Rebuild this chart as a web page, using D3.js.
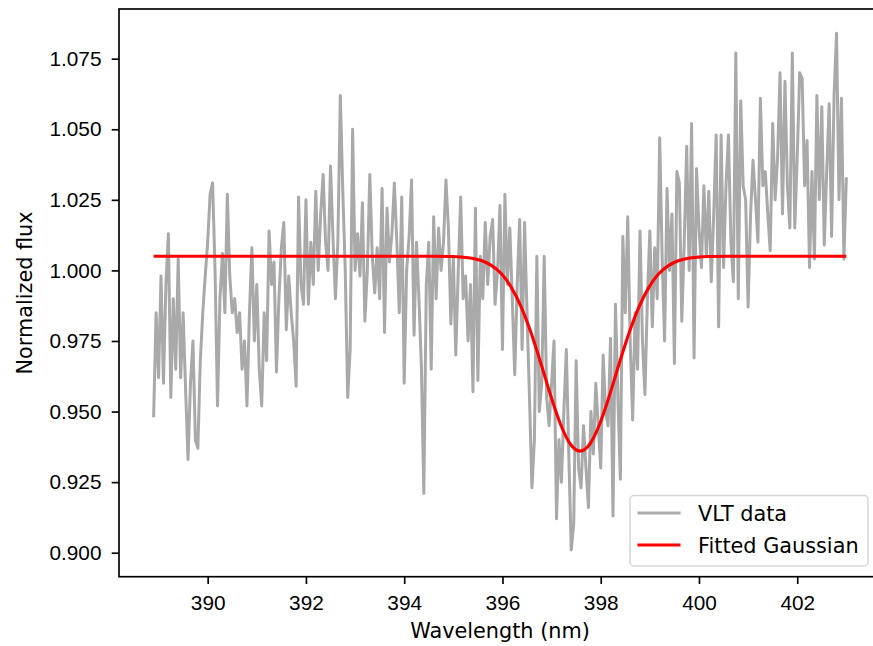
<!DOCTYPE html>
<html>
<head>
<meta charset="utf-8">
<script src="https://cdn.jsdelivr.net/npm/d3@7"></script>
<style>
  body { margin: 0; background: #fff; }
  svg { display: block; font-family: "DejaVu Sans", sans-serif; }
  .axis text { font-size: 20.8px; fill: #000; }
  .axis line { stroke: #000; stroke-width: 1.67; }
  .axis-title { font-size: 20.8px; fill: #000; }
  .legend-text { font-size: 20.8px; fill: #000; }
</style>
</head>
<body>
<svg id="chart"></svg>
<script>
// VLT spectrum; one value every 0.05 nm from 388.90 nm
const wavelengthStart = 388.9;
const wavelengthStep = 0.05;
const vltFlux = [
  // 388.90 - 391.10
  0.948, 0.985, 0.962, 0.998, 0.960, 0.995, 1.013, 0.955, 0.990, 0.965,
  1.004, 0.962, 0.985, 0.958, 0.933, 0.960, 0.975, 0.940, 0.937, 0.968,
  0.985, 0.998, 1.010, 1.027, 1.031, 1.000, 0.952, 0.990, 1.006, 0.985,
  1.027, 0.998, 0.985, 0.990, 0.978, 0.985, 0.965, 0.975, 0.952, 0.985,
  1.008, 0.975, 0.995, 0.965, 0.952,
  // 391.15 - 393.55
  0.985, 0.968, 1.014, 0.995, 1.003, 0.964, 0.990, 1.008, 1.017, 0.979,
  0.998, 0.985, 0.975, 0.959, 1.026, 0.995, 0.988, 1.025, 0.988, 1.010,
  0.995, 1.028, 1.000, 1.020, 1.034, 1.010, 1.000, 1.037, 1.012, 0.990,
  1.010, 1.062, 1.028, 1.000, 0.955, 0.972, 1.050, 1.000, 1.013, 0.998,
  1.024, 0.982, 1.000, 1.034, 1.005, 0.992, 1.008, 0.990, 1.029,
  // 393.60 - 396.00
  0.978, 1.022, 1.003, 1.013, 1.031, 1.010, 0.985, 1.026, 0.960, 1.000,
  1.012, 1.032, 0.977, 1.010, 0.990, 0.966, 0.921, 0.995, 1.010, 0.965,
  1.019, 0.990, 1.015, 1.000, 1.010, 1.032, 1.015, 0.981, 1.005, 0.970,
  1.000, 1.026, 0.990, 0.998, 0.975, 0.995, 0.957, 1.022, 0.961, 1.005,
  0.990, 1.017, 0.995, 1.012, 1.018, 0.988, 1.000, 1.023, 0.972,
  // 396.05 - 398.45
  1.027, 0.995, 1.015, 0.990, 0.963, 0.995, 1.018, 0.972, 1.017, 0.985,
  0.955, 0.923, 0.940, 1.005, 0.950, 0.960, 1.005, 0.955, 0.945, 0.960,
  0.975, 0.912, 0.940, 0.925, 0.950, 0.972, 0.935, 0.901, 0.910, 0.968,
  0.930, 0.923, 0.945, 0.930, 0.916, 0.950, 0.935, 0.960, 0.945, 0.930,
  0.970, 0.950, 0.945, 0.976, 0.913, 0.988, 0.955, 0.926, 1.012,
  // 398.50 - 400.90
  0.985, 1.019, 0.975, 0.947, 0.985, 0.965, 1.014, 0.975, 0.956, 0.990,
  1.014, 0.980, 1.008, 0.990, 1.047, 1.005, 0.975, 1.029, 1.000, 1.020,
  0.967, 1.035, 1.031, 0.982, 1.010, 1.044, 1.000, 1.052, 0.969, 1.036,
  1.015, 1.001, 1.030, 1.005, 1.028, 0.996, 1.020, 1.048, 0.980, 1.048,
  1.001, 1.030, 1.048, 1.010, 0.996, 1.077, 0.990, 1.060, 1.030,
  // 400.95 - 403.00
  1.025, 0.987, 1.020, 1.039, 1.025, 1.010, 1.061, 1.030, 1.035, 1.020,
  1.007, 1.052, 1.025, 1.040, 1.070, 1.020, 1.067, 1.030, 1.015, 1.077,
  1.015, 1.040, 1.070, 1.068, 1.030, 1.046, 1.001, 1.035, 1.004, 1.062,
  1.025, 1.058, 1.009, 1.035, 1.059, 1.012, 1.062, 1.084, 1.025, 1.061,
  1.004, 1.033,
];

// fitted Gaussian, sampled from the red curve
const fitWavelength = [388.9, 394.58, 394.98, 395.18, 395.38, 395.58, 395.78, 395.98, 396.18, 396.38,
  396.58, 396.78, 396.98, 397.18, 397.38, 397.58, 397.78, 397.98, 398.18, 398.38,
  398.58, 398.78, 398.98, 399.18, 399.38, 399.58, 399.78, 399.98, 400.18, 400.58, 403.0];
const fitFlux = [1.005, 1.005, 1.0049, 1.0047, 1.0043, 1.0034, 1.0017, 0.9988, 0.9940, 0.9871,
  0.9780, 0.9672, 0.9558, 0.9456, 0.9385, 0.936, 0.9385, 0.9456, 0.9558, 0.9672,
  0.9780, 0.9871, 0.9940, 0.9988, 1.0017, 1.0034, 1.0043, 1.0047, 1.0049, 1.005, 1.005];

const xTicks = [390, 392, 394, 396, 398, 400, 402];
const yTicks = [0.900, 0.925, 0.950, 0.975, 1.000, 1.025, 1.050, 1.075];
const legendLabels = ['VLT data', 'Fitted Gaussian'];

class SpectrumChart {
  constructor(_config) {
    this.config = {
      parentElement: _config.parentElement,
      containerWidth: 873,
      containerHeight: 646,
      // right edge of the axes lies past the picture edge
      margin: { top: 9, left: 119 },
      plotWidth: 762,
      plotHeight: 567.7,
      xDomain: [388.195, 403.705],
      yDomain: [0.8915, 1.0926],
    };
    this.initVis();
  }

  initVis() {
    const vis = this;
    const cfg = vis.config;

    vis.xScale = d3.scaleLinear().domain(cfg.xDomain).range([0, cfg.plotWidth]);
    vis.yScale = d3.scaleLinear().domain(cfg.yDomain).range([cfg.plotHeight, 0]);

    vis.svg = d3.select(cfg.parentElement)
      .attr('width', cfg.containerWidth)
      .attr('height', cfg.containerHeight);

    vis.chart = vis.svg.append('g')
      .attr('transform', `translate(${cfg.margin.left},${cfg.margin.top})`);

    vis.xAxis = d3.axisBottom(vis.xScale)
      .tickValues(xTicks)
      .tickSize(7.3)
      .tickSizeOuter(0)
      .tickPadding(11)
      .tickFormat(d3.format('d'));

    vis.yAxis = d3.axisLeft(vis.yScale)
      .tickValues(yTicks)
      .tickSize(7.3)
      .tickSizeOuter(0)
      .tickPadding(10.2)
      .tickFormat(d3.format('.3f'));

    vis.renderVis();
  }

  renderVis() {
    const vis = this;
    const cfg = vis.config;

    const spectrum = vltFlux.map((f, i) => ({ wl: wavelengthStart + i * wavelengthStep, flux: f }));
    const fit = fitWavelength.map((w, i) => ({ wl: w, flux: fitFlux[i] }));

    const line = d3.line()
      .x((d) => vis.xScale(d.wl))
      .y((d) => vis.yScale(d.flux));

    vis.chart.append('path')
      .datum(spectrum)
      .attr('fill', 'none')
      .attr('stroke', '#a9a9a9')
      .attr('stroke-width', 3)
      .attr('stroke-linejoin', 'round')
      .attr('d', line);

    vis.chart.append('path')
      .datum(fit)
      .attr('fill', 'none')
      .attr('stroke', '#ff0000')
      .attr('stroke-width', 3.1)
      .attr('stroke-linejoin', 'round')
      .attr('d', line.curve(d3.curveMonotoneX));

    // axes, domain removed and replaced by the frame
    vis.chart.append('g')
      .attr('class', 'axis x-axis')
      .attr('transform', `translate(0,${cfg.plotHeight})`)
      .call(vis.xAxis)
      .call((g) => g.select('.domain').remove());

    vis.chart.append('g')
      .attr('class', 'axis y-axis')
      .call(vis.yAxis)
      .call((g) => g.select('.domain').remove());

    vis.chart.append('rect')
      .attr('width', cfg.plotWidth)
      .attr('height', cfg.plotHeight)
      .attr('fill', 'none')
      .attr('stroke', '#000')
      .attr('stroke-width', 1.67);

    vis.svg.append('text')
      .attr('class', 'axis-title')
      .attr('x', 500)
      .attr('y', 637.5)
      .attr('text-anchor', 'middle')
      .text('Wavelength (nm)');

    vis.svg.append('text')
      .attr('class', 'axis-title')
      .attr('transform', 'translate(31.5,293) rotate(-90)')
      .attr('text-anchor', 'middle')
      .text('Normalized flux');

    vis.renderLegend();
  }

  renderLegend() {
    const vis = this;
    const colors = ['#a9a9a9', '#ff0000'];

    const legend = vis.svg.append('g').attr('transform', 'translate(630,495.5)');

    legend.append('rect')
      .attr('width', 238)
      .attr('height', 70.5)
      .attr('rx', 4)
      .attr('fill', '#fff')
      .attr('fill-opacity', 0.8)
      .attr('stroke', '#d6d6d6')
      .attr('stroke-width', 1.5);

    const items = legend.selectAll('.legend-item')
      .data(legendLabels)
      .join('g')
      .attr('class', 'legend-item')
      .attr('transform', (d, i) => `translate(0,${17.5 + i * 32})`);

    items.append('line')
      .attr('x1', 7.5)
      .attr('x2', 50.5)
      .attr('stroke', (d, i) => colors[i])
      .attr('stroke-width', 3.1);

    items.append('text')
      .attr('class', 'legend-text')
      .attr('x', 68)
      .attr('y', 7.6)
      .text((d) => d);
  }
}

const spectrumChart = new SpectrumChart({ parentElement: '#chart' });
</script>
</body>
</html>
